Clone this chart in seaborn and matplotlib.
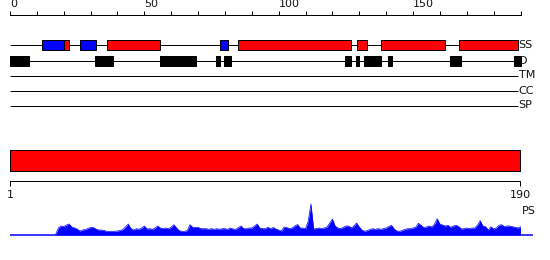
import matplotlib
matplotlib.use("Agg")
import matplotlib.pyplot as plt
from matplotlib.ticker import FixedLocator, MultipleLocator
import seaborn as sns
import pandas as pd

sns.set_style("white")
plt.rcParams['font.family'] = ['DejaVu Sans']

# ---------------- data ----------------
seq_len = 190
ruler_labels = [0, 50, 100, 150]

ss_start = [12, 20, 26, 36, 78, 85, 129, 138, 167]
ss_end = [20, 22, 32, 56, 81, 127, 133, 162, 189]
ss_kind = ['E', 'H', 'E', 'H', 'E', 'H', 'H', 'H', 'H']

dis_start = [0, 31.7, 56, 76.7, 79.6, 124.7, 128.8, 131.7, 140.7, 163.7, 187.7]
dis_end = [7.2, 38.2, 69.1, 78.2, 82.1, 126.8, 129.8, 138, 142.2, 167.7, 190]

track_labels = ['SS', 'D', 'TM', 'CC', 'SP']

domain_start = [1]
domain_end = [190]
domain_ticks = [1, 190]

ps_pos = list(range(17, 191))
ps_val = [
    0.5, 7, 9, 8.5, 10, 11, 8, 7, 6, 4,
    5, 5.5, 6.5, 7.5, 7.5, 6, 5, 5, 4.5, 3.7,
    3.7, 3.7, 3.7, 4, 4.5, 5.5, 8, 11, 6.5, 5,
    6.3, 5.7, 7, 9, 6, 6.3, 5.7, 7, 9, 7,
    6.3, 7, 6.3, 8, 10.3, 7, 4.3, 3.7, 3.7, 4.5,
    10.3, 7.7, 7.7, 7.7, 6.3, 6.3, 6.3, 5.7, 6.3, 5.7,
    6.3, 5.7, 6.3, 6.3, 5.7, 7, 6, 5.7, 7.5, 9,
    6.3, 6.3, 7, 7, 9, 11, 7, 6.3, 6.3, 7.7,
    6.3, 7.5, 6, 5, 4, 8, 7.5, 6.3, 7, 9,
    10.5, 7, 7, 6.3, 14, 31, 6, 6.5, 7, 6.5,
    7, 8, 12, 16, 9, 7, 6.5, 7.5, 9, 9,
    7, 9, 12, 8, 5, 3.7, 4.5, 5.5, 6.3, 5.7,
    6.3, 5.7, 6.3, 7, 8.5, 9.7, 6, 4, 3.7, 4.5,
    5.7, 6.3, 6.3, 7, 7.7, 11.7, 9.7, 7.5, 8, 9,
    8, 11, 16.3, 11, 10, 9, 9.7, 7.7, 9, 9.7,
    8.5, 6, 6.3, 7, 6.3, 7, 7, 10, 14.3, 9,
    8.3, 5, 8.3, 6, 7, 9.7, 10.3, 8.3, 9, 9,
    8.3, 7.7, 7, 8.3,
]

# ---------------- layout (pixels) ----------------
W, H = 550, 260
PT = 72 / 100.0  # one pixel in points
RED, BLUE, BLACK = '#ff0000', '#0000ff', '#000000'
X0, X1 = 10, 520.5
track_y = [44.5, 60.5, 75.5, 90.5, 105.5]
line_end = 189.0

fig = plt.figure(figsize=(W / 100, H / 100), dpi=100)

# tracks axes (y in pixel rows)
ax = fig.add_axes([X0 / W, 0, (X1 - X0) / W, 1])
ax.set_xlim(0, seq_len)
ax.set_ylim(H, 0)
ax.axis('off')

for y, lbl in zip(track_y, track_labels):
    ax.hlines(y, 0, line_end, color=BLACK, lw=PT, zorder=1)
    ax.text(line_end + 0.3, y, lbl, ha='left', va='center', fontsize=8, color='#111111')

ss_color = {'H': RED, 'E': BLUE}
for s, e, k in zip(ss_start, ss_end, ss_kind):
    ax.broken_barh([(s, e - s)], (track_y[0] - 5, 10), facecolors=ss_color[k],
                   edgecolors=BLACK, linewidth=PT, zorder=2)
for s, e in zip(dis_start, dis_end):
    ax.broken_barh([(s, e - s)], (track_y[1] - 5, 10), facecolors=BLACK,
                   edgecolors=BLACK, linewidth=PT, zorder=2)

ax.text(190.4, 211, 'PS', ha='left', va='center', fontsize=8, color='#111111')

# top ruler
ax_r = fig.add_axes([X0 / W, 1 - 15.5 / H, (X1 - X0) / W, 1.0 / H])
ax_r.set_xlim(0, seq_len)
ax_r.patch.set_visible(False)
for sp in ['left', 'right', 'bottom']:
    ax_r.spines[sp].set_visible(False)
ax_r.spines['top'].set_linewidth(PT)
ax_r.spines['top'].set_color(BLACK)
ax_r.set_yticks([])
ax_r.xaxis.tick_top()
ax_r.xaxis.set_major_locator(FixedLocator(ruler_labels))
ax_r.xaxis.set_minor_locator(MultipleLocator(10))
ax_r.set_xticklabels([str(v) for v in ruler_labels])
ax_r.tick_params(axis='x', which='both', direction='out', length=4 * PT, width=PT,
                 color=BLACK, top=True, bottom=False, labeltop=True, labelbottom=False)
ax_r.tick_params(axis='x', which='major', pad=1.0, labelsize=8, labelcolor='#111111')
for t in ax_r.get_xticklabels():
    t.set_ha('left')

# domain bar + bottom ruler
Xd0, Xd1 = 10, 520
ax_d = fig.add_axes([Xd0 / W, 1 - 180.5 / H, (Xd1 - Xd0) / W, 30.5 / H])
ax_d.set_xlim(1, seq_len)
ax_d.set_ylim(0, 30.5)
ax_d.patch.set_visible(False)
for sp in ['left', 'right', 'top']:
    ax_d.spines[sp].set_visible(False)
ax_d.spines['bottom'].set_linewidth(PT)
ax_d.spines['bottom'].set_color(BLACK)
ax_d.set_yticks([])
for s, e in zip(domain_start, domain_end):
    ax_d.broken_barh([(s, e - s)], (10, 20.5), facecolors=RED, edgecolors=BLACK,
                     linewidth=PT, clip_on=False)
ax_d.set_xticks(domain_ticks)
ax_d.set_xticklabels([str(v) for v in domain_ticks])
ax_d.tick_params(axis='x', direction='out', length=5 * PT, width=PT, color=BLACK,
                 bottom=True, labelbottom=True, pad=3, labelsize=8, labelcolor='#111111')

# PS profile
ax_p = fig.add_axes([X0 / W, 0, (X1 - X0) / W, 1])
ax_p.set_xlim(0, seq_len)
ax_p.set_ylim(-25, 235)
ax_p.axis('off')
ps_df = pd.DataFrame({'pos': ps_pos, 'val': ps_val})
ax_p.fill_between(ps_df['pos'], ps_df['val'], 0, color=BLUE, lw=0)
sns.lineplot(data=ps_df, x='pos', y='val', ax=ax_p, color=BLUE, lw=0.5)
ax_p.hlines(0, 0, 194.6, color=BLUE, lw=1.1, clip_on=False)

fig.savefig('out.png', dpi=100)
